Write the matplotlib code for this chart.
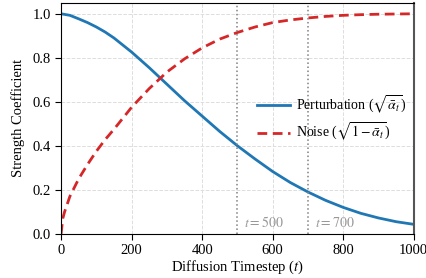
import numpy as np
import matplotlib
matplotlib.use("Agg")
import matplotlib.pyplot as plt

plt.rcParams['font.family'] = ['Liberation Serif', 'DejaVu Serif']
plt.rcParams['mathtext.fontset'] = 'stix'

# valeurs
t_pert = [0, 25, 50, 75, 100, 125, 150, 200, 250, 300, 350, 400, 450, 500,
          550, 600, 650, 700, 750, 800, 850, 900, 950, 1000]
pert = [1.0, 0.993, 0.977, 0.96, 0.94, 0.917, 0.89, 0.826, 0.755, 0.68, 0.605, 0.535, 0.465, 0.40,
        0.34, 0.283, 0.233, 0.19, 0.152, 0.12, 0.093, 0.072, 0.055, 0.043]

t_noise = [0, 5, 10, 25, 50, 75, 100, 125, 150, 200, 250, 300, 350, 400, 450, 500,
           550, 600, 650, 700, 750, 800, 850, 900, 950, 1000]
noise = [0.0, 0.07, 0.1, 0.17, 0.25, 0.315, 0.375, 0.428, 0.475, 0.575, 0.66, 0.735, 0.795, 0.845, 0.885, 0.915,
         0.94, 0.96, 0.972, 0.981, 0.988, 0.993, 0.996, 0.998, 0.999, 1.0]

marks = [500, 700]
mark_labels = ['$t=500$', '$t=700$']

fig = plt.figure(figsize=(4.27, 2.78), dpi=100)
ax = fig.add_axes([0.143, 0.159, 0.826, 0.831])

ax.plot(t_pert, pert, color='#1f77b4', lw=2, label=r'Perturbation ($\sqrt{\bar{\alpha}_t}$)')
ax.plot(t_noise, noise, color='#d62728', lw=2, ls=(0, (3.5, 2)), label=r'Noise ($\sqrt{1-\bar{\alpha}_t}$)')

for x, lab in zip(marks, mark_labels):
    ax.axvline(x, color='gray', ls=':', lw=1.1)
    ax.text(x + 20, 0.015, lab, color='#999999', fontsize=10, va='bottom')

ax.set_xlim(0, 1000)
ax.set_ylim(0, 1.05)
ax.set_xticks([0, 200, 400, 600, 800, 1000])
ax.set_yticks([0.0, 0.2, 0.4, 0.6, 0.8, 1.0])
ax.grid(True, ls='--', color='#dddddd', lw=0.7)
ax.tick_params(labelsize=10.5, direction='out', length=4)
ax.set_xlabel('Diffusion Timestep ($t$)', fontsize=10.5, labelpad=1)
ax.set_ylabel('Strength Coefficient', fontsize=10.5, labelpad=5)
ax.spines['right'].set_color('#555555')
ax.spines['right'].set_linewidth(1.5)

ax.legend(loc='center left', bbox_to_anchor=(0.556, 0.50), frameon=False, fontsize=10,
          handlelength=2.4, labelspacing=0.4, borderpad=0, borderaxespad=0, handletextpad=0.4)

fig.savefig('out.png', dpi=100)
